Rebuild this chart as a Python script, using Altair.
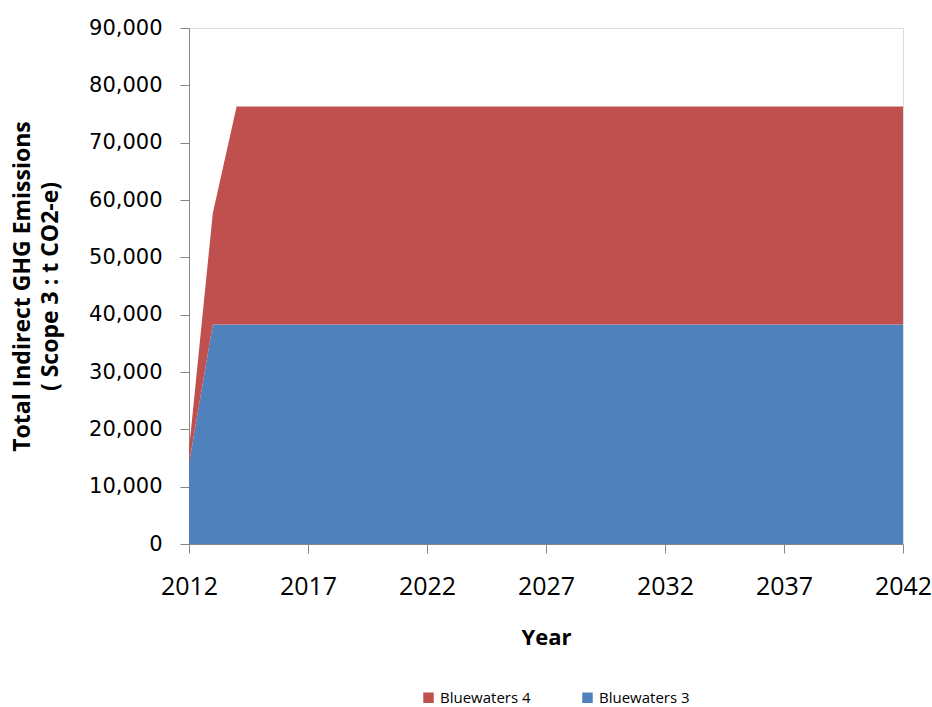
import altair as alt
import pandas as pd

years = list(range(2012, 2043))
bluewaters3 = [14000, 38300, 38300, 38300, 38300, 38300, 38300, 38300, 38300, 38300,
               38300, 38300, 38300, 38300, 38300, 38300, 38300, 38300, 38300, 38300,
               38300, 38300, 38300, 38300, 38300, 38300, 38300, 38300, 38300, 38300, 38300]
bluewaters4 = [2500, 19400, 38000, 38000, 38000, 38000, 38000, 38000, 38000, 38000,
               38000, 38000, 38000, 38000, 38000, 38000, 38000, 38000, 38000, 38000,
               38000, 38000, 38000, 38000, 38000, 38000, 38000, 38000, 38000, 38000, 38000]
series_names = ["Bluewaters 4", "Bluewaters 3"]
series_colors = ["#C0504D", "#4F81BD"]
x_ticks = [2012, 2017, 2022, 2027, 2032, 2037, 2042]
y_ticks = [0, 10000, 20000, 30000, 40000, 50000, 60000, 70000, 80000, 90000]

rows = []
for y, a, b in zip(years, bluewaters3, bluewaters4):
    rows.append({"Year": y, "Series": "Bluewaters 3", "Value": a, "ord": 0})
    rows.append({"Year": y, "Series": "Bluewaters 4", "Value": b, "ord": 1})
df = pd.DataFrame(rows)

chart = alt.Chart(df).mark_area(interpolate="linear", strokeWidth=0).encode(
    x=alt.X("Year:Q",
            scale=alt.Scale(domain=[2012, 2042], nice=False, zero=False),
            axis=alt.Axis(values=x_ticks, format="d", title="Year",
                          labelFont="Open Sans", labelFontSize=25, labelColor="#000000",
                          labelPadding=21, tickSize=9, tickColor="#868686",
                          domainColor="#868686", grid=False, labelFlush=False,
                          titleFont="Open Sans", titleFontSize=22, titleFontWeight="bold",
                          titleColor="#000000", titlePadding=28)),
    y=alt.Y("Value:Q", stack="zero",
            scale=alt.Scale(domain=[0, 90000], nice=False),
            axis=alt.Axis(values=y_ticks, format=",.0f",
                          title=["Total Indirect GHG Emissions", "( Scope 3 : t CO2-e)"],
                          labelFont="DejaVu Sans", labelFontSize=21, labelColor="#000000",
                          labelPadding=18, tickSize=9, tickColor="#868686",
                          domainColor="#868686", grid=False,
                          titleFont="Open Sans", titleFontSize=23, titleFontWeight="bold",
                          titleColor="#000000", titlePadding=26, titleLineHeight=28)),
    color=alt.Color("Series:N",
                    scale=alt.Scale(domain=series_names, range=series_colors),
                    legend=alt.Legend(title=None, orient="none", direction="horizontal",
                                      legendX=232, legendY=662, symbolType="square",
                                      symbolSize=110, symbolStrokeWidth=0,
                                      labelFont="Open Sans", labelFontSize=15,
                                      labelColor="#000000", labelLimit=300,
                                      columnPadding=49, labelOffset=4, padding=0)),
    order=alt.Order("ord:Q"),
).properties(
    width=714, height=516,
    autosize=alt.AutoSizeParams(type="none"),
    padding={"left": 189, "top": 28, "right": 29, "bottom": 163},
).configure_view(stroke=None).configure(background="white")

chart.save("out.html", embed_options={"renderer": "svg", "actions": False})
